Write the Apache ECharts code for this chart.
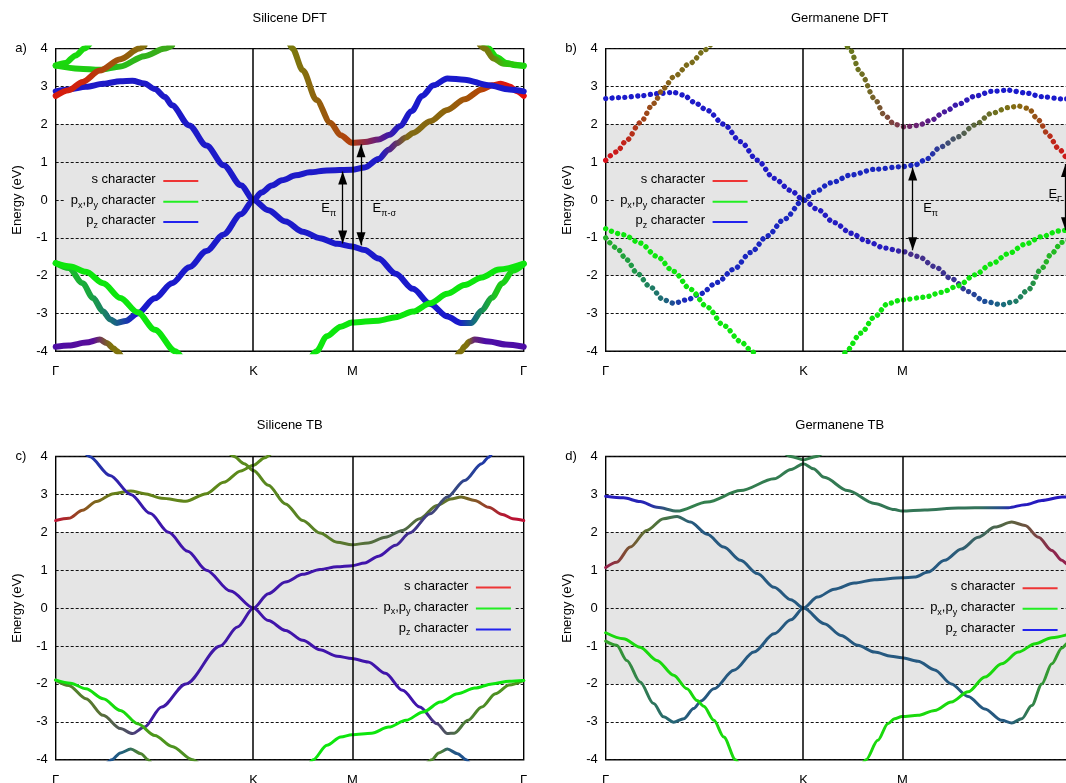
<!DOCTYPE html>
<html>
<head>
<meta charset="utf-8">
<title>Silicene and germanene band structures</title>
<script src="https://cdn.jsdelivr.net/npm/echarts@6.0.0/dist/echarts.min.js"></script>
<style>
  html, body { margin: 0; padding: 0; background: #ffffff; }
  #chart { width: 1066px; height: 783px; }
</style>
</head>
<body>
<div id="chart"></div>
<script>
// ---------------------------------------------------------------------------
// Path through the hexagonal Brillouin zone: Γ–K–M–Γ (cumulative |k|)
// ---------------------------------------------------------------------------
const kPath = [0, 1.3333, 2.0, 3.1547];
const kLabels = ['Γ', 'K', 'M', 'Γ'];
const energyRange = [-4, 4];
const energyStep = 1;
const highlightWindow = [-2, 2];

const panelTitles = ['Silicene DFT', 'Germanene DFT', 'Silicene TB', 'Germanene TB'];
const panelTags = ['a)', 'b)', 'c)', 'd)'];
const legendLabels = ['{t|s character}', '{t|p}{s|x}{t|,p}{s|y}{t| character}', '{t|p}{s|z}{t| character}'];

// Each band: list of [k, E(eV)] samples
// Orbital character along a band: [k, s weight, px/py weight, pz weight]

const siliceneDftBands = [
  [[0,2.87],[0.088,2.92],[0.204,2.99],[0.320,3.07],[0.436,3.14],[0.517,3.15],[0.598,3.08],[0.668,2.93],[0.737,2.72],[0.784,2.5],[0.900,1.97],[1.016,1.44],[1.132,0.92],[1.248,0.39],[1.3333,0],[1.433,-0.27],[1.549,-0.57],[1.665,-0.84],[1.781,-1.01],[1.897,-1.16],[1.997,-1.23],[2.083,-1.32],[2.176,-1.55],[2.292,-1.95],[2.408,-2.35],[2.524,-2.75],[2.640,-3.08],[2.732,-3.25],[2.802,-3.25],[2.872,-2.92],[2.941,-2.58],[3.011,-2.2],[3.081,-1.87],[3.155,-1.69]],
  [[0,-1.67],[0.088,-1.8],[0.181,-2.2],[0.251,-2.59],[0.320,-2.95],[0.367,-3.16],[0.413,-3.25],[0.471,-3.2],[0.552,-3.0],[0.668,-2.6],[0.784,-2.2],[0.900,-1.78],[1.016,-1.35],[1.132,-0.91],[1.248,-0.38],[1.3333,0],[1.387,0.2],[1.457,0.38],[1.526,0.52],[1.619,0.65],[1.712,0.73],[1.828,0.78],[1.997,0.8],[2.083,0.86],[2.176,1.08],[2.245,1.33],[2.30,1.5],[2.36,1.65],[2.408,1.77],[2.524,2.08],[2.640,2.38],[2.756,2.66],[2.872,2.92],[2.941,3.03],[3.0,3.07],[3.060,3.0],[3.104,2.88],[3.155,2.75]],
  [[1.561,4.3],[1.596,4.0],[1.665,3.43],[1.758,2.64],[1.851,2.04],[1.921,1.71],[1.997,1.51],[2.083,1.53],[2.176,1.6],[2.25,1.72],[2.32,1.95],[2.40,2.35],[2.47,2.75],[2.547,3.03],[2.640,3.21],[2.756,3.18],[2.918,3.03],[3.057,2.92],[3.155,2.87]],
  [[0,-1.67],[0.1,-1.76],[0.204,-1.9],[0.320,-2.2],[0.436,-2.59],[0.552,-2.97],[0.668,-3.43],[0.807,-4.0],[0.854,-4.2]],
  [[1.723,-4.15],[1.758,-4.0],[1.828,-3.6],[1.921,-3.35],[1.997,-3.24],[2.176,-3.19],[2.292,-3.1],[2.408,-2.95],[2.524,-2.73],[2.640,-2.48],[2.756,-2.25],[2.872,-2.05],[2.988,-1.84],[3.155,-1.68]],
  [[0,3.55],[0.065,3.62],[0.135,3.82],[0.193,4.0],[0.227,4.12]],
  [[0,3.55],[0.158,3.47],[0.297,3.44],[0.436,3.53],[0.598,3.8],[0.737,4.0],[0.784,4.08]],
  [[0,2.75],[0.088,2.9],[0.181,3.12],[0.297,3.42],[0.436,3.72],[0.564,4.0],[0.598,4.08]],
  [[2.89,4.1],[2.92,4.0],[2.97,3.78],[3.04,3.62],[3.10,3.56],[3.155,3.55]],
  [[2.86,4.1],[2.895,4.0],[2.95,3.74],[3.02,3.6],[3.155,3.54]],
  [[0,-3.88],[0.088,-3.85],[0.204,-3.77],[0.297,-3.69],[0.343,-3.78],[0.390,-3.92],[0.413,-4.0],[0.436,-4.1]],
  [[2.71,-4.1],[2.732,-4.0],[2.756,-3.87],[2.79,-3.74],[2.825,-3.69],[2.918,-3.74],[3.034,-3.82],[3.155,-3.88]]
];
const siliceneDftCharacter = [
  [[0,.12,.1,.78],[2.70,.1,.1,.8],[2.80,.08,.42,.5],[2.95,.12,.78,.1],[3.155,.05,.9,.05]],
  [[0,.1,.8,.1],[0.25,.1,.65,.25],[0.41,.1,.4,.5],[0.55,.1,.1,.8],[2.18,.12,.1,.78],[2.26,.35,.15,.5],[2.36,.5,.42,.08],[2.6,.55,.4,.05],[2.85,.7,.28,.02],[2.98,.85,.1,.05],[3.155,.9,.05,.05]],
  [[1.56,.45,.5,.05],[1.75,.55,.4,.05],[1.9,.65,.3,.05],[2.0,.7,.25,.05],[2.1,.55,.15,.3],[2.2,.35,.1,.55],[2.3,.15,.1,.75],[2.4,.1,.1,.8],[3.155,.1,.1,.8]],
  [[0,.05,.9,.05],[0.854,.05,.9,.05]],
  [[1.72,.05,.9,.05],[3.155,.05,.9,.05]],
  [[0,.1,.85,.05],[0.227,.1,.85,.05]],
  [[0,.1,.85,.05],[0.4,.15,.75,.1],[0.784,.25,.65,.1]],
  [[0,.85,.1,.05],[0.2,.8,.15,.05],[0.35,.65,.3,.05],[0.6,.5,.45,.05]],
  [[2.89,.1,.85,.05],[3.155,.1,.85,.05]],
  [[2.86,.5,.45,.05],[2.95,.45,.5,.05],[3.02,.2,.75,.05],[3.155,.1,.85,.05]],
  [[0,.3,.05,.65],[0.25,.35,.05,.6],[0.3,.45,.25,.3],[0.36,.5,.45,.05],[0.436,.5,.45,.05]],
  [[2.71,.5,.45,.05],[2.79,.5,.45,.05],[2.83,.4,.15,.45],[2.9,.3,.05,.65],[3.155,.3,.05,.65]]
];

const germaneneDftBands = [
  [[0,2.68],[0.120,2.71],[0.232,2.75],[0.345,2.81],[0.458,2.84],[0.526,2.77],[0.593,2.59],[0.684,2.37],[0.796,2.0],[0.909,1.54],[1.022,1.05],[1.135,0.57],[1.248,0.25],[1.3333,0],[1.428,-0.25],[1.541,-0.6],[1.654,-0.88],[1.766,-1.1],[1.879,-1.27],[1.997,-1.36],[2.105,-1.49],[2.218,-1.76],[2.330,-2.08],[2.443,-2.42],[2.556,-2.68],[2.669,-2.77],[2.759,-2.68],[2.849,-2.37],[2.940,-1.8],[3.007,-1.41],[3.075,-1.12],[3.155,-1.0]],
  [[0,-1.0],[0.074,-1.27],[0.142,-1.58],[0.210,-1.93],[0.300,-2.3],[0.390,-2.64],[0.458,-2.73],[0.548,-2.64],[0.638,-2.48],[0.751,-2.18],[0.864,-1.83],[0.977,-1.39],[1.090,-0.95],[1.203,-0.51],[1.3333,0],[1.405,0.2],[1.518,0.45],[1.654,0.66],[1.812,0.81],[1.997,0.88],[2.082,0.92],[2.150,1.05],[2.263,1.41],[2.376,1.67],[2.488,1.98],[2.601,2.29],[2.714,2.44],[2.782,2.48],[2.849,2.42],[2.917,2.11],[2.985,1.71],[3.052,1.36],[3.115,1.1],[3.155,1.03]],
  [[0,1.05],[0.074,1.27],[0.142,1.58],[0.232,2.04],[0.323,2.55],[0.390,2.95],[0.458,3.25],[0.571,3.62],[0.672,3.97],[0.706,4.1]],
  [[1.609,4.2],[1.642,4.0],[1.721,3.34],[1.812,2.68],[1.879,2.24],[1.947,2.0],[2.015,1.93],[2.105,1.97],[2.195,2.11],[2.285,2.33],[2.376,2.53],[2.488,2.74],[2.601,2.87],[2.714,2.9],[2.827,2.83],[2.940,2.73],[3.075,2.67],[3.155,2.67]],
  [[0,-0.76],[0.120,-0.92],[0.232,-1.14],[0.345,-1.49],[0.458,-1.89],[0.571,-2.36],[0.684,-2.83],[0.796,-3.32],[0.909,-3.74],[0.977,-3.96],[1.0,-4.05]],
  [[1.597,-4.2],[1.620,-4.0],[1.721,-3.52],[1.812,-3.09],[1.902,-2.74],[1.997,-2.64],[2.150,-2.57],[2.263,-2.44],[2.376,-2.27],[2.488,-1.98],[2.601,-1.69],[2.714,-1.42],[2.827,-1.17],[2.940,-0.97],[3.052,-0.82],[3.155,-0.76]]
];
const germaneneDftCharacter = [
  [[0,.1,.1,.8],[1.9,.15,.1,.75],[2.05,.28,.18,.54],[2.35,.22,.2,.58],[2.55,.1,.3,.6],[2.7,.1,.45,.45],[2.85,.15,.55,.3],[2.95,.15,.7,.15],[3.155,.1,.8,.1]],
  [[0,.15,.7,.15],[0.2,.12,.6,.28],[0.4,.12,.42,.46],[0.55,.1,.15,.75],[2.15,.1,.15,.75],[2.3,.25,.3,.45],[2.45,.35,.4,.25],[2.65,.45,.45,.1],[2.8,.55,.4,.05],[2.9,.6,.3,.1],[3.0,.75,.15,.1],[3.155,.85,.05,.1]],
  [[0,.85,.05,.1],[0.15,.75,.15,.1],[0.3,.6,.3,.1],[0.45,.5,.4,.1],[0.706,.45,.45,.1]],
  [[1.61,.4,.5,.1],[1.8,.45,.4,.15],[1.95,.5,.25,.25],[2.05,.45,.15,.4],[2.2,.35,.1,.55],[2.4,.2,.1,.7],[2.6,.1,.1,.8],[3.155,.1,.1,.8]],
  [[0,.05,.9,.05],[1.0,.05,.9,.05]],
  [[1.6,.05,.9,.05],[3.155,.05,.9,.05]]
];

const siliceneTbBands = [
  [[0,2.31],[0.088,2.37],[0.181,2.58],[0.274,2.81],[0.390,3.02],[0.506,3.09],[0.598,3.02],[0.714,2.9],[0.877,2.82],[1.016,3.02],[1.132,3.32],[1.248,3.62],[1.3333,3.77],[1.410,3.97],[1.457,4.1]],
  [[1.167,4.1],[1.202,4.0],[1.271,3.81],[1.3333,3.63],[1.433,3.24],[1.549,2.75],[1.665,2.31],[1.781,1.98],[1.897,1.74],[1.997,1.67],[2.106,1.72],[2.222,1.87],[2.338,2.05],[2.454,2.36],[2.570,2.71],[2.663,2.88],[2.733,2.93],[2.825,2.84],[2.918,2.66],[3.011,2.47],[3.081,2.36],[3.155,2.31]],
  [[0.193,4.12],[0.227,4.0],[0.366,3.5],[0.506,3.0],[0.636,2.5],[0.761,2.0],[0.890,1.5],[1.016,1.0],[1.178,0.45],[1.3333,0],[1.433,-0.33],[1.549,-0.59],[1.665,-0.85],[1.781,-1.1],[1.897,-1.27],[1.997,-1.33],[2.106,-1.42],[2.222,-1.72],[2.338,-2.17],[2.454,-2.61],[2.570,-3.05],[2.640,-3.31],[2.686,-3.3],[2.779,-2.96],[2.872,-2.61],[2.964,-2.26],[3.057,-2.03],[3.155,-1.91]],
  [[0,-1.9],[0.088,-2.04],[0.204,-2.39],[0.320,-2.83],[0.436,-3.18],[0.517,-3.31],[0.598,-3.14],[0.714,-2.61],[0.877,-2.0],[1.109,-1.0],[1.225,-0.5],[1.3333,0],[1.433,0.38],[1.549,0.69],[1.665,0.89],[1.781,1.02],[1.897,1.09],[1.997,1.12],[2.083,1.19],[2.176,1.37],[2.292,1.66],[2.385,1.98],[2.524,2.49],[2.640,2.93],[2.756,3.37],[2.872,3.81],[2.918,3.98],[2.94,4.08]],
  [[0,-1.9],[0.1,-1.98],[0.204,-2.13],[0.320,-2.39],[0.436,-2.7],[0.552,-3.05],[0.668,-3.36],[0.784,-3.65],[0.923,-4.0],[0.97,-4.12]],
  [[1.712,-4.1],[1.735,-4.0],[1.828,-3.62],[1.921,-3.4],[1.997,-3.34],[2.129,-3.3],[2.245,-3.14],[2.361,-2.96],[2.477,-2.74],[2.593,-2.48],[2.709,-2.26],[2.825,-2.11],[2.941,-2.0],[3.057,-1.93],[3.155,-1.91]],
  [[0.343,-4.1],[0.378,-4.0],[0.436,-3.82],[0.506,-3.72],[0.575,-3.84],[0.622,-4.0],[0.645,-4.1]],
  [[2.50,-4.1],[2.535,-4.0],[2.582,-3.82],[2.640,-3.72],[2.709,-3.84],[2.767,-4.0],[2.79,-4.1]]
];
const siliceneTbCharacter = [
  [[0,.75,.05,.2],[0.2,.55,.33,.12],[0.4,.4,.5,.1],[1.457,.35,.55,.1]],
  [[1.167,.35,.55,.1],[1.8,.35,.5,.15],[2.0,.35,.45,.2],[2.3,.3,.4,.3],[2.5,.35,.45,.2],[2.7,.4,.45,.15],[2.85,.55,.3,.15],[3.0,.7,.1,.2],[3.155,.75,.05,.2]],
  [[0.19,.1,.25,.65],[0.45,.2,.12,.68],[0.8,.25,.08,.67],[2.45,.25,.08,.67],[2.6,.3,.3,.4],[2.7,.3,.45,.25],[2.85,.3,.55,.15],[3.155,.3,.6,.1]],
  [[0,.3,.55,.15],[0.3,.35,.45,.2],[0.5,.3,.3,.4],[0.65,.25,.1,.65],[2.2,.25,.08,.67],[2.4,.25,.2,.55],[2.6,.25,.3,.45],[2.8,.15,.25,.6],[2.94,.1,.2,.7]],
  [[0,.05,.9,.05],[0.5,.1,.85,.05],[0.62,.3,.6,.1],[0.97,.3,.55,.15]],
  [[1.71,.05,.9,.05],[3.155,.05,.9,.05]],
  [[0.34,.1,.3,.6],[0.48,.15,.4,.45],[0.55,.3,.5,.2],[0.645,.3,.55,.15]],
  [[2.5,.3,.55,.15],[2.6,.3,.5,.2],[2.66,.15,.35,.5],[2.79,.1,.3,.6]]
];

const germaneneTbBands = [
  [[0,2.95],[0.120,2.91],[0.232,2.81],[0.345,2.66],[0.481,2.56],[0.684,2.8],[0.909,3.1],[1.135,3.41],[1.25,3.66],[1.3333,3.81],[1.40,3.68],[1.473,3.45],[1.631,3.1],[1.812,2.76],[1.947,2.6],[1.997,2.56],[2.150,2.59],[2.376,2.64],[2.601,2.65],[2.714,2.65],[2.827,2.73],[2.940,2.84],[3.075,2.93],[3.155,2.95]],
  [[0,1.07],[0.074,1.21],[0.165,1.61],[0.277,2.05],[0.390,2.36],[0.481,2.42],[0.571,2.27],[0.684,1.95],[0.796,1.61],[0.909,1.26],[1.022,0.91],[1.135,0.55],[1.248,0.22],[1.3333,0],[1.473,-0.41],[1.586,-0.72],[1.699,-0.98],[1.812,-1.16],[1.924,-1.27],[1.997,-1.31],[2.105,-1.4],[2.218,-1.63],[2.330,-2.0],[2.443,-2.33],[2.556,-2.66],[2.669,-2.96],[2.737,-3.03],[2.804,-2.92],[2.872,-2.57],[2.940,-2.0],[3.007,-1.47],[3.075,-1.05],[3.115,-0.92],[3.155,-0.87]],
  [[0,-0.87],[0.074,-0.98],[0.142,-1.38],[0.232,-1.95],[0.323,-2.52],[0.390,-2.87],[0.458,-3.01],[0.526,-2.92],[0.593,-2.65],[0.643,-2.45],[0.729,-2.13],[0.864,-1.64],[0.999,-1.16],[1.135,-0.68],[1.248,-0.31],[1.3333,0],[1.428,0.29],[1.541,0.5],[1.676,0.66],[1.812,0.75],[1.997,0.8],[2.082,0.82],[2.173,0.95],[2.285,1.26],[2.398,1.56],[2.511,1.87],[2.624,2.14],[2.737,2.27],[2.827,2.18],[2.917,1.87],[3.007,1.52],[3.075,1.26],[3.115,1.15],[3.155,1.07]],
  [[0,-0.65],[0.120,-0.81],[0.232,-1.03],[0.345,-1.38],[0.458,-1.77],[0.548,-2.13],[0.616,-2.44],[0.661,-2.59],[0.729,-2.96],[0.796,-3.4],[0.875,-4.0],[0.9,-4.15]],
  [[1.733,-4.1],[1.755,-4.0],[1.834,-3.49],[1.902,-3.05],[1.947,-2.92],[1.997,-2.86],[2.105,-2.83],[2.218,-2.7],[2.330,-2.48],[2.443,-2.21],[2.556,-1.82],[2.669,-1.47],[2.782,-1.16],[2.895,-0.94],[3.007,-0.78],[3.155,-0.65]],
  [[1.202,4.1],[1.248,4.0],[1.3333,3.91],[1.419,4.0],[1.464,4.1]]
];
const germaneneTbCharacter = [
  [[0,.15,.1,.75],[0.3,.15,.15,.7],[0.45,.2,.4,.4],[0.55,.2,.5,.3],[2.5,.2,.45,.35],[2.65,.15,.3,.55],[2.75,.15,.1,.75],[3.155,.15,.1,.75]],
  [[0,.6,.1,.3],[0.15,.5,.3,.2],[0.3,.35,.45,.2],[0.45,.25,.45,.3],[0.6,.15,.35,.5],[2.7,.15,.35,.5],[2.85,.2,.5,.3],[2.95,.2,.6,.2],[3.155,.2,.65,.15]],
  [[0,.2,.65,.15],[0.25,.2,.5,.3],[0.45,.15,.4,.45],[0.6,.15,.35,.5],[2.3,.15,.35,.5],[2.55,.25,.4,.35],[2.7,.35,.4,.25],[2.85,.45,.3,.25],[3.0,.55,.15,.3],[3.155,.6,.1,.3]],
  [[0,.1,.85,.05],[0.9,.1,.85,.05]],
  [[1.73,.1,.85,.05],[3.155,.1,.85,.05]],
  [[1.2,.2,.5,.3],[1.464,.2,.5,.3]]
];

// Gap arrows: [panel, k, E at upper tip, E at lower tip]
const gapArrows = [[0, 1.9346, 0.75, -1.15], [0, 2.058, 1.47, -1.2], [1, 2.0694, 0.86, -1.33], [1, 3.0995, 0.95, -0.8]];
// Gap labels: [panel, k, E, subscript]
const gapLabels = [[0, 1.9346, -0.26, 'π'], [0, 2.058, -0.26, 'π-σ'], [1, 2.0694, -0.26, 'π'], [1, 3.0995, 0.10, 'Γ']];

// ---------------------------------------------------------------------------
// Styling and layout
// ---------------------------------------------------------------------------
const FONT = '"Liberation Sans", Arial, Helvetica, sans-serif';
const INK = '#000000';
const SHADE = '#e5e5e5';
const PANEL_WIDTH = 468;
const RICH = {
  t: { fontSize: 13, lineHeight: 16, verticalAlign: 'top', color: INK, fontFamily: FONT, fontWeight: 'normal' },
  s: { fontSize: 9, lineHeight: 10, padding: [7, 0, 0, 0], verticalAlign: 'top', color: INK, fontFamily: FONT, fontWeight: 'normal' }
};
const legendSwatches = ['#ee3535', '#22ee22', '#2222ee'];
const labelPlacement = [['left', 6], ['right', 11], ['right', 10], ['left', 3]];

const panels = [
  { bands: siliceneDftBands,  character: siliceneDftCharacter,  left: 55.7,  top: 48.6,  height: 302.7, look: 'dense', legendRight: 155.7, legendRows: [181, 201.7, 222],     titleTop: 12,  tagTop: 42 },
  { bands: germaneneDftBands, character: germaneneDftCharacter, left: 605.7, top: 48.6,  height: 302.7, look: 'dots',  legendRight: 705,   legendRows: [181, 201.7, 222],     titleTop: 12,  tagTop: 42 },
  { bands: siliceneTbBands,   character: siliceneTbCharacter,   left: 55.7,  top: 456.5, height: 303.2, look: 'line',  legendRight: 468.3, legendRows: [587.5, 608.5, 629.5], titleTop: 419, tagTop: 450 },
  { bands: germaneneTbBands,  character: germaneneTbCharacter,  left: 605.7, top: 456.5, height: 303.2, look: 'line',  legendRight: 1015,  legendRows: [588.3, 608.7, 630],   titleTop: 419, tagTop: 450 }
];

function characterColor(c) {
  return 'rgb(' + Math.round(c[1] * 255) + ',' + Math.round(c[2] * 255) + ',' + Math.round(c[3] * 255) + ')';
}

// Colour along a band follows its orbital character (gradient along k)
function bandColor(points, character) {
  if (character.length < 2) return characterColor(character[0]);
  const k0 = points[0][0];
  const k1 = points[points.length - 1][0];
  const stops = character.map(function (c) {
    const off = Math.min(1, Math.max(0, (c[0] - k0) / (k1 - k0)));
    return { offset: off, color: characterColor(c) };
  });
  return new echarts.graphic.LinearGradient(0, 0, 1, 0, stops);
}

function kLabelFor(v) {
  let best = 0;
  for (let i = 1; i < kPath.length; i++) {
    if (Math.abs(kPath[i] - v) < Math.abs(kPath[best] - v)) best = i;
  }
  return kLabels[best];
}

const titles = [];
const graphics = [];
const grids = [];
const xAxes = [];
const yAxes = [];
const series = [];

panels.forEach(function (P, i) {
  titles.push({ text: panelTitles[i], left: P.left + PANEL_WIDTH / 2, top: P.titleTop, textAlign: 'center', padding: 0,
    textStyle: { fontSize: 13, fontWeight: 'normal', color: INK, fontFamily: FONT } });
  titles.push({ text: panelTags[i], left: P.left - 34.7, top: P.tagTop, textAlign: 'center', padding: 0,
    textStyle: { fontSize: 13, fontWeight: 'normal', color: INK, fontFamily: FONT } });

  // key box: opaque shaded panel behind the entries
  const rows = P.legendRows;
  graphics.push({ type: 'rect', silent: true, z: 1,
    shape: { x: P.legendRight - 91, y: rows[0] - 10, width: 137, height: rows[2] - rows[0] + 20 },
    style: { fill: SHADE } });
  legendLabels.forEach(function (txt, r) {
    titles.push({ text: txt, left: P.legendRight, top: rows[r] - 8, textAlign: 'right', padding: 0, z: 4,
      textStyle: { fontSize: 13, fontWeight: 'normal', color: INK, fontFamily: FONT, rich: RICH } });
    graphics.push({ type: 'line', silent: true, z: 3,
      shape: { x1: P.legendRight + 7.6, y1: rows[r], x2: P.legendRight + 42.6, y2: rows[r] },
      style: { stroke: legendSwatches[r], lineWidth: 2 } });
  });

  grids.push({ left: P.left, top: P.top, width: PANEL_WIDTH, height: P.height, show: true,
    borderColor: INK, borderWidth: 1.4, backgroundColor: 'transparent', containLabel: false, outerBoundsMode: 'none' });

  xAxes.push({ gridIndex: i, type: 'value', min: kPath[0], max: kPath[kPath.length - 1],
    axisLine: { show: false }, axisTick: { show: false }, splitLine: { show: false },
    axisLabel: { customValues: kPath, formatter: kLabelFor, fontSize: 13, color: INK, margin: 14, fontFamily: FONT } });

  yAxes.push({ gridIndex: i, type: 'value', min: energyRange[0], max: energyRange[1], interval: energyStep,
    axisLine: { show: false }, axisTick: { show: false },
    axisLabel: { fontSize: 13, color: INK, margin: 8, fontFamily: FONT },
    splitLine: { show: true, lineStyle: { color: '#111', width: 1, type: [3, 2] } },
    name: 'Energy (eV)', nameLocation: 'middle', nameGap: 32,
    nameTextStyle: { fontSize: 13, color: INK, fontFamily: FONT } });

  // shaded energy window
  series.push({ type: 'line', xAxisIndex: i, yAxisIndex: i, data: [], silent: true, z: -1,
    markArea: { silent: true, z: -1, itemStyle: { color: SHADE },
      data: [[{ yAxis: highlightWindow[0] }, { yAxis: highlightWindow[1] }]] } });

  // bands
  P.bands.forEach(function (pts, b) {
    const ls = { width: 3, color: bandColor(pts, P.character[b]), cap: 'round', join: 'round', type: 'solid' };
    if (P.look === 'dense') ls.width = 6;
    if (P.look === 'dots') { ls.width = 5.3; ls.type = [0.1, 6.3]; }
    series.push({ type: 'line', xAxisIndex: i, yAxisIndex: i, data: pts, symbol: 'none', showSymbol: false,
      smooth: 0.3, smoothMonotone: 'x', silent: true, z: 2, clip: true, lineStyle: ls });
  });

  // high-symmetry lines K and M
  series.push({ type: 'line', xAxisIndex: i, yAxisIndex: i, data: [], silent: true, z: 3,
    markLine: { silent: true, symbol: ['none', 'none'], label: { show: false },
      lineStyle: { color: INK, width: 1.5, type: 'solid' },
      data: [{ xAxis: kPath[1] }, { xAxis: kPath[2] }] } });

  // gap annotations
  const arrows = gapArrows.filter(function (a) { return a[0] === i; });
  const labels = [];
  gapLabels.forEach(function (l, j) { if (l[0] === i) labels.push({ l: l, place: labelPlacement[j] }); });
  if (arrows.length || labels.length) {
    series.push({ type: 'line', xAxisIndex: i, yAxisIndex: i, data: [], silent: true, z: 6,
      markLine: { silent: true, symbol: ['triangle', 'triangle'], symbolSize: [9, 13],
        symbolOffset: [[0, 6.5], [0, 6.5]], label: { show: false },
        lineStyle: { color: INK, width: 1.3, type: 'solid' }, itemStyle: { color: INK },
        data: arrows.map(function (a) { return [{ coord: [a[1], a[2]] }, { coord: [a[1], a[3]] }]; }) },
      markPoint: { silent: true, symbol: 'circle', symbolSize: 1, itemStyle: { color: 'rgba(0,0,0,0)' },
        label: { show: true, formatter: function (p) { return p.name; }, rich: RICH },
        data: labels.map(function (o) {
          return { name: '{t|E}{s|' + o.l[3] + '}', coord: [o.l[1], o.l[2]],
            label: { position: o.place[0], distance: o.place[1] } };
        }) } });
  }
});

const chart = echarts.init(document.getElementById('chart'), null, { renderer: 'canvas' });
chart.setOption({
  animation: false,
  backgroundColor: '#ffffff',
  textStyle: { fontFamily: FONT },
  title: titles,
  grid: grids,
  xAxis: xAxes,
  yAxis: yAxes,
  series: series,
  graphic: graphics
});
</script>
</body>
</html>
